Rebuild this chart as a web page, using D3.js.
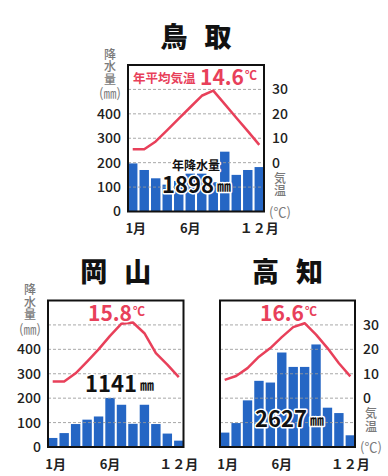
<!DOCTYPE html>
<html>
<head>
<meta charset="UTF-8">
<title>鳥取・岡山・高知の雨温図</title>
<style>
  body { margin: 0; background: #fff; }
  text { font-family: "Noto Sans CJK JP", "Noto Sans", sans-serif; }
</style>
</head>
<body>
<svg></svg>
<script src="https://d3js.org/d3.v7.min.js"></script>
<script>
// ---- data ----
const months = [1, 2, 3, 4, 5, 6, 7, 8, 9, 10, 11, 12];
const xTickMonths = [1, 6, 12];
const xTickLabels = ["1月", "6月", "１２月"];
const rainTicks = [0, 100, 200, 300, 400];
const tempTicks = [0, 10, 20, 30];
const gridValues = [100, 200, 300, 400, 500];

const cityNames = ["鳥取", "岡山", "高知"];
const avgTemps = ["14.6", "15.8", "16.6"];
const annualRain = ["1898", "1141", "2627"];

// monthly precipitation (mm) and mean temperature (°C)
const tottoriRain = [197, 170, 136, 110, 125, 155, 155, 120, 245, 150, 170, 182];
const tottoriTemp = [5.5, 5.5, 8.7, 13.3, 18, 22.7, 27.4, 29.5, 24, 18.4, 12.9, 7.3];
const okayamaRain = [37, 57, 94, 112, 125, 201, 173, 95, 173, 94, 55, 26];
const okayamaTemp = [6.8, 6.8, 10.2, 15, 20, 25.5, 30.5, 31, 26.6, 18.4, 13.7, 8.6];
const kochiRain = [59, 98, 191, 271, 264, 387, 328, 328, 420, 161, 139, 48];
const kochiTemp = [7.5, 9.1, 12.3, 17, 20.5, 25, 29.1, 30.7, 26, 20.5, 14.3, 8.9];

const width = 388, height = 476;
const barColor = "#2566c4";
const lineColor = "#e8405a";
const labelGray = "#7a7a7a";

const svg = d3.select("svg")
    .attr("width", width)
    .attr("height", height);

// panel layout
const panels = [
    { name: cityNames[0], rain: tottoriRain, temp: tottoriTemp, avg: avgTemps[0], total: annualRain[0],
      x0: 128, x1: 264, y0: 65, y1: 211.5, left: true, right: true,
      tempLabel: { x: 200, y: 85, prefix: true }, rainLabel: { x: 162, y: 193, prefix: true } },
    { name: cityNames[1], rain: okayamaRain, temp: okayamaTemp, avg: avgTemps[1], total: annualRain[1],
      x0: 48, x1: 183.5, y0: 300.5, y1: 447, left: true, right: false,
      tempLabel: { x: 88, y: 321 }, rainLabel: { x: 85, y: 392 } },
    { name: cityNames[2], rain: kochiRain, temp: kochiTemp, avg: avgTemps[2], total: annualRain[2],
      x0: 220, x1: 355, y0: 300.5, y1: 447, left: false, right: true,
      tempLabel: { x: 260, y: 321 }, rainLabel: { x: 255, y: 427 } }
];

panels.forEach(drawPanel);

function halo(sel) {
    return sel.attr("stroke", "#fff")
        .attr("stroke-width", 3)
        .attr("stroke-linejoin", "round")
        .attr("paint-order", "stroke");
}

// stacked (vertical) axis caption
function verticalLabel(g, x, yTop, str) {
    return g.append("text")
        .attr("x", x).attr("y", yTop)
        .attr("writing-mode", "vertical-rl")
        .attr("font-size", 12)
        .attr("font-weight", 500)
        .attr("letter-spacing", 0.5)
        .attr("fill", labelGray)
        .text(str);
}

function drawPanel(p) {
    const g = svg.append("g");

    const x = d3.scaleBand()
        .domain(months)
        .range([p.x0, p.x1])
        .paddingInner(0.18);
    const y = d3.scaleLinear().domain([0, 600]).range([p.y1, p.y0]);
    const t = d3.scaleLinear().domain([-20, 40]).range([p.y1, p.y0]);
    const cx = (p.x0 + p.x1) / 2;

    // bars
    g.append("g")
        .selectAll("rect")
        .data(p.rain)
        .join("rect")
        .attr("x", (d, i) => x(months[i]))
        .attr("y", d => y(d))
        .attr("width", x.bandwidth())
        .attr("height", d => y(0) - y(d))
        .attr("fill", barColor);

    // grid
    g.append("g")
        .selectAll("line")
        .data(gridValues)
        .join("line")
        .attr("x1", p.x0).attr("x2", p.x1)
        .attr("y1", d => y(d)).attr("y2", d => y(d))
        .attr("stroke", "#999")
        .attr("stroke-opacity", 0.85)
        .attr("stroke-dasharray", "3,2");

    // temperature line
    const line = d3.line()
        .x((d, i) => x(months[i]) + x.bandwidth() / 2)
        .y(d => t(d));
    g.append("path")
        .datum(p.temp)
        .attr("d", line)
        .attr("fill", "none")
        .attr("stroke", lineColor)
        .attr("stroke-width", 2.5)
        .attr("stroke-linejoin", "round");

    // frame
    g.append("rect")
        .attr("x", p.x0).attr("y", p.y0)
        .attr("width", p.x1 - p.x0).attr("height", p.y1 - p.y0)
        .attr("fill", "none")
        .attr("stroke", "#111")
        .attr("stroke-width", 2);

    // axes
    if (p.left) {
        const ax = g.append("g")
            .attr("transform", `translate(${p.x0},0)`)
            .call(d3.axisLeft(y).tickValues(rainTicks).tickSize(0).tickPadding(7));
        ax.select(".domain").remove();
        ax.selectAll("text")
            .attr("font-size", 14).attr("font-weight", 500).attr("fill", "#222");

        const lx = p.x0 - 18;
        verticalLabel(g, lx, p.y0 - 17, "降水量");
        g.append("text")
            .attr("x", lx).attr("y", p.y0 + 27.5)
            .attr("text-anchor", "middle")
            .attr("dominant-baseline", "central")
            .attr("font-size", 13)
            .attr("fill", labelGray)
            .text("(㎜)");
    }
    if (p.right) {
        const ax = g.append("g")
            .attr("transform", `translate(${p.x1},0)`)
            .call(d3.axisRight(t).tickValues(tempTicks).tickSize(0).tickPadding(8));
        ax.select(".domain").remove();
        ax.selectAll("text")
            .attr("font-size", 14).attr("font-weight", 500).attr("fill", "#222");

        const rx = p.x1 + 16;
        verticalLabel(g, rx, t(0) + 9.5, "気温");
        g.append("text")
            .attr("x", rx).attr("y", p.y1 - 0.5)
            .attr("text-anchor", "middle")
            .attr("dominant-baseline", "central")
            .attr("font-size", 13)
            .attr("fill", labelGray)
            .text("(℃)");
    }

    // month labels
    g.append("g").selectAll("text")
        .data(xTickMonths)
        .join("text")
        .attr("x", (d, i) => x(d) + x.bandwidth() / 2 + (i === 0 ? 3 : 0))
        .attr("y", p.y1 + 16)
        .attr("text-anchor", "middle")
        .attr("dominant-baseline", "central")
        .attr("font-size", 13)
        .attr("font-weight", 700)
        .attr("fill", "#222")
        .text((d, i) => xTickLabels[i]);

    // title
    g.append("g").selectAll("text")
        .data(p.name.split(""))
        .join("text")
        .attr("x", (d, i) => cx + (i === 0 ? -22 : 22))
        .attr("y", p.y0 - 30)
        .attr("text-anchor", "middle")
        .attr("dominant-baseline", "central")
        .attr("font-size", 27)
        .attr("font-weight", 900)
        .attr("fill", "#111")
        .text(d => d);

    // annual mean temperature
    if (p.tempLabel.prefix) {
        halo(g.append("text"))
            .attr("x", p.x0 + 5).attr("y", p.tempLabel.y - 8)
            .attr("dominant-baseline", "central")
            .attr("font-size", 12.5)
            .attr("font-weight", 700)
            .attr("fill", lineColor)
            .text("年平均気温");
    }
    const tt = halo(g.append("text"))
        .attr("x", p.tempLabel.x).attr("y", p.tempLabel.y)
        .attr("font-weight", 700)
        .attr("fill", lineColor);
    tt.append("tspan").attr("font-size", 21).text(p.avg);
    tt.append("tspan").attr("font-size", 12).attr("dx", 1).attr("dy", -5).text("℃");

    // annual precipitation
    if (p.rainLabel.prefix) {
        halo(g.append("text"))
            .attr("x", cx).attr("y", p.rainLabel.y - 29)
            .attr("text-anchor", "middle")
            .attr("dominant-baseline", "central")
            .attr("font-size", 12)
            .attr("font-weight", 700)
            .attr("fill", "#111")
            .text("年降水量");
    }
    const rt = halo(g.append("text"))
        .attr("x", p.rainLabel.x).attr("y", p.rainLabel.y)
        .attr("font-weight", 700)
        .attr("fill", "#111");
    rt.append("tspan").attr("font-size", 22).text(p.total);
    rt.append("tspan").attr("font-size", 14).attr("dx", 3).attr("dy", -2).text("㎜");
}
</script>
</body>
</html>
